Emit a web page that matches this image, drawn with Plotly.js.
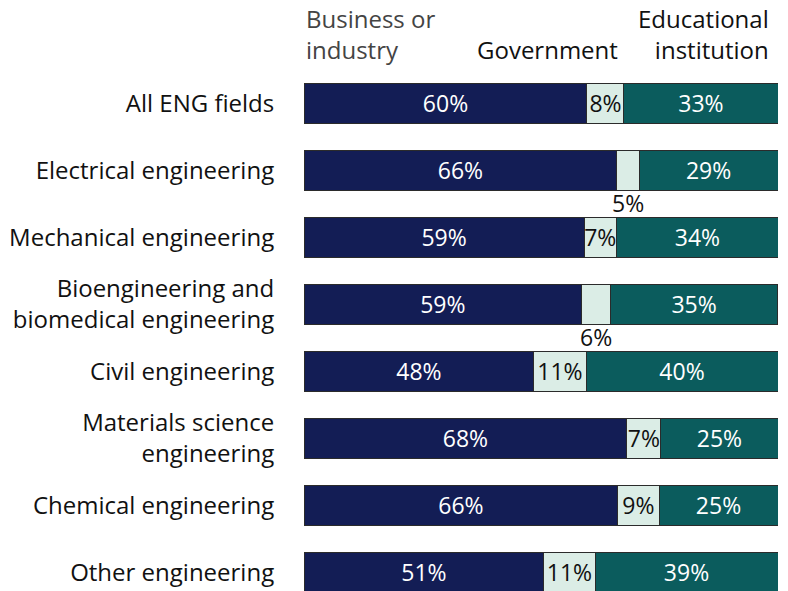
<!DOCTYPE html>
<html>
<head>
<meta charset="utf-8">
<script src="https://cdn.plot.ly/plotly-3.0.1.min.js"></script>
<style>html,body{margin:0;padding:0;background:#fff;}#chart{width:788px;height:591px;}</style>
</head>
<body>
<div id="chart"></div>
<script>
const categories = [
  "All ENG fields",
  "Electrical engineering",
  "Mechanical engineering",
  "Bioengineering and<br>biomedical engineering",
  "Civil engineering",
  "Materials science<br>engineering",
  "Chemical engineering",
  "Other engineering"
];
const seriesNames = ["Business or<br>industry", "Government", "Educational<br>institution"];
const business = [59.7, 66.0, 59.1, 58.6, 48.5, 68.1, 66.2, 50.6];
const government = [7.8, 4.7, 6.8, 6.1, 11.0, 7.2, 8.7, 10.8];
const education = [32.5, 29.3, 34.2, 35.2, 40.5, 24.7, 25.1, 38.6];
const businessLabels = ["60%", "66%", "59%", "59%", "48%", "68%", "66%", "51%"];
const governmentLabels = ["8%", "5%", "7%", "6%", "11%", "7%", "9%", "11%"];
const educationLabels = ["33%", "29%", "34%", "35%", "40%", "25%", "25%", "39%"];
const outsideGov = [false, true, false, true, false, false, false, false];

const FONT = "'Open Sans', 'Noto Sans', sans-serif";
const FS = 23;
const TFS = 24;
const lineStyle = {color: "#2b2b2b", width: 1};

const traces = [
  {name: seriesNames[0], x: business, y: categories, color: "#131d55", text: businessLabels, tc: "#ffffff"},
  {name: seriesNames[1], x: government, y: categories, color: "#dbede6", text: governmentLabels.map((t, i) => outsideGov[i] ? "" : t), tc: "#111111"},
  {name: seriesNames[2], x: education, y: categories, color: "#0b5c5d", text: educationLabels, tc: "#ffffff"}
].map(s => ({
  type: "bar", orientation: "h", name: s.name, x: s.x, y: s.y,
  marker: {color: s.color, line: lineStyle},
  text: s.text, textposition: "inside", insidetextanchor: "middle",
  textangle: 0, constraintext: "none",
  insidetextfont: {family: FONT, size: FS, color: s.tc},
  hoverinfo: "skip"
}));

const annotations = [];
categories.forEach((c, i) => {
  if (outsideGov[i]) {
    annotations.push({
      x: business[i] + government[i] / 2, y: c, xref: "x", yref: "y",
      text: governmentLabels[i], showarrow: false, yshift: -33,
      font: {family: FONT, size: FS, color: "#111"}
    });
  }
});
annotations.push(
  {x: 0, y: 1, xref: "x", yref: "paper", xanchor: "left", yanchor: "bottom", yshift: 2, align: "left",
   text: seriesNames[0], showarrow: false, font: {family: FONT, size: TFS, color: "#444"}},
  {x: 66.6, y: 1, xref: "x", yref: "paper", xanchor: "right", yanchor: "bottom", yshift: 2,
   text: seriesNames[1], showarrow: false, font: {family: FONT, size: TFS, color: "#111"}},
  {x: 98.6, y: 1, xref: "x", yref: "paper", xanchor: "right", yanchor: "bottom", yshift: 2, align: "right",
   text: seriesNames[2], showarrow: false, font: {family: FONT, size: TFS, color: "#111"}}
);

const layout = {
  width: 788, height: 591,
  margin: {l: 304, r: 10, t: 70, b: 0},
  barmode: "stack", bargap: 0.4, showlegend: false,
  paper_bgcolor: "#fff", plot_bgcolor: "#fff",
  font: {family: FONT, size: TFS, color: "#111"},
  xaxis: {range: [0, 100], visible: false, fixedrange: true},
  yaxis: {range: [7.28, -0.5], showgrid: false, zeroline: false, showline: false,
          ticks: "outside", ticklen: 24, tickcolor: "rgba(0,0,0,0)",
          tickfont: {family: FONT, size: TFS, color: "#111"}, fixedrange: true},
  annotations: annotations
};

Plotly.newPlot("chart", traces, layout, {displayModeBar: false, staticPlot: true});
</script>
</body>
</html>
